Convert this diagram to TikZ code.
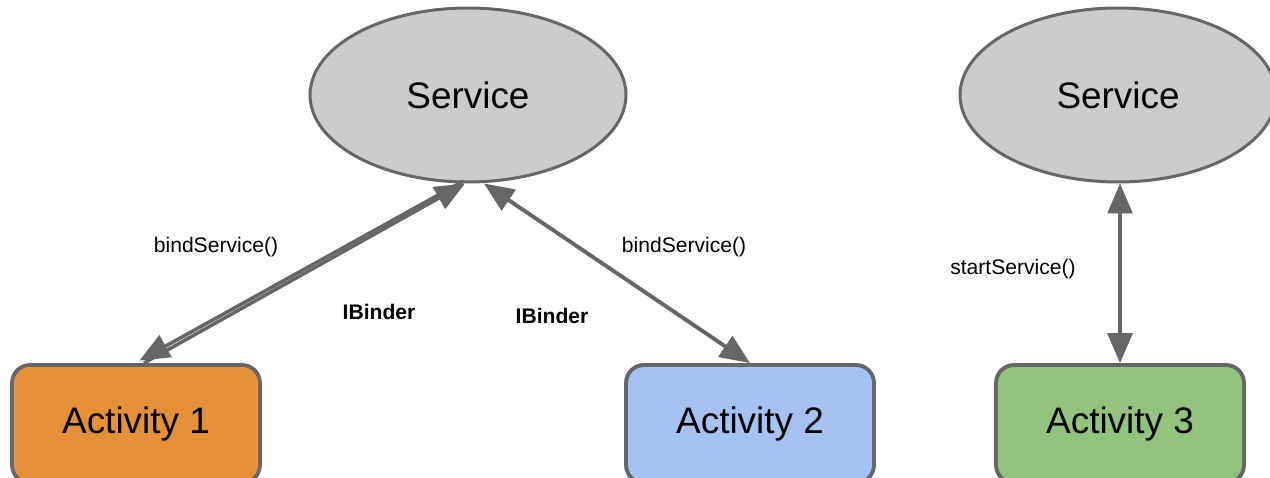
\documentclass[tikz,border=0pt]{standalone}
\usepackage{fontspec}
\setmainfont{Liberation Sans}
\usetikzlibrary{shapes.geometric}
\usetikzlibrary{arrows.meta}
\definecolor{custom-grey}{RGB}{204, 204, 204}
\definecolor{custom-line}{RGB}{102, 102, 102}
\definecolor{custom-orange}{RGB}{230, 145, 56}
\definecolor{custom-blue}{RGB}{164, 194, 244}
\definecolor{custom-green}{RGB}{147, 196, 125}

\begin{document}
\begin{tikzpicture}[x=0.02cm, y=0.02cm,
    service/.style={ellipse, fill=custom-grey, draw=custom-line, line width=1.7pt,
        minimum width=6.32cm, minimum height=3.48cm, inner sep=0pt, font=\fontsize{21}{25}\selectfont},
    activity/.style={rectangle, rounded corners=0.36cm, draw=custom-line, line width=2.2pt,
        minimum width=4.96cm, minimum height=2.36cm, font=\fontsize{21}{25}\selectfont},
    oneway/.style={draw=custom-line, line width=2pt, -{Triangle[length=17pt, width=14pt]}},
    twoway/.style={draw=custom-line, line width=2.2pt, {Triangle[length=17pt, width=14pt]}-{Triangle[length=17pt, width=14pt]}},
    call/.style={font=\fontsize{12}{14}\selectfont}]
\useasboundingbox (0,0) rectangle (1270,477);
% services
\node[service] (svc1) at (468,382) {Service};
\node[service] (svc2) at (1118,382) {Service};
% activities
\node[activity, fill=custom-orange] (act1) at (136,53) {Activity 1};
\node[activity, fill=custom-blue] (act2) at (750,53) {Activity 2};
\node[activity, fill=custom-green] (act3) at (1120,53) {Activity 3};
% connectors
\draw[oneway] ([xshift=0.16cm]act1.north) -- ([xshift=-0.06cm]svc1.south);
\draw[oneway] ([xshift=-0.09cm, yshift=0.05cm]svc1.south) -- ([xshift=0.07cm, yshift=0.05cm]act1.north);
\draw[twoway] ([xshift=0.32cm]svc1.south) -- (act2.north);
\draw[twoway] ([xshift=0.04cm]svc2.south) -- (act3.north);
% labels
\node[call] (bind1) at (216,230) {bindService()};
\node[call, font=\fontsize{12}{14}\selectfont\bfseries] (ib1) at (379,165) {IBinder};
\node[call, font=\fontsize{12}{14}\selectfont\bfseries] (ib2) at (552,161) {IBinder};
\node[call] (bind2) at (684,230) {bindService()};
\node[call] (start3) at (1013,208) {startService()};
\end{tikzpicture}
\end{document}
